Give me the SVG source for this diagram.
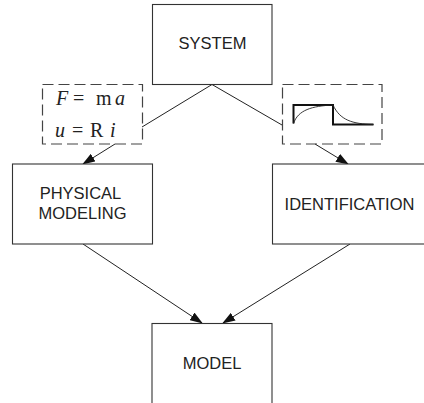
<svg xmlns="http://www.w3.org/2000/svg" width="424" height="403" viewBox="0 0 424 403">
<style>
.box{fill:#fff;stroke:#333;stroke-width:1.1}
.dash{fill:none;stroke:#444;stroke-width:1.2;stroke-dasharray:11 5}
.lbl{font-family:"Liberation Sans",Arial,sans-serif;font-size:16.5px;fill:#222;text-anchor:middle}
.eq{font-family:"Liberation Serif","Times New Roman",serif;font-size:20px;fill:#222}
.conn{fill:none;stroke:#222;stroke-width:1}
</style>
<defs>
<marker id="arr" markerWidth="13" markerHeight="9" refX="12" refY="4.5" orient="auto" markerUnits="userSpaceOnUse">
<path d="M0,0 L13,4.5 L0,9 Z" fill="#111"/>
</marker>
</defs>
<rect width="424" height="403" fill="#fff"/>
<g id="connectors">
<line class="conn" x1="212" y1="84.5" x2="142" y2="127"/>
<line class="conn" x1="212" y1="84.5" x2="282" y2="125"/>
<line class="conn" x1="115" y1="144" x2="83" y2="164" marker-end="url(#arr)"/>
<line class="conn" x1="315" y1="144" x2="348" y2="164" marker-end="url(#arr)"/>
<line class="conn" x1="83" y1="244" x2="202" y2="323" marker-end="url(#arr)"/>
<line class="conn" x1="350" y1="244" x2="223" y2="323" marker-end="url(#arr)"/>
</g>
<g id="system">
<rect class="box" x="152.5" y="4.5" width="119.5" height="80"/>
<text class="lbl" x="212.5" y="49">SYSTEM</text>
</g>
<g id="equations">
<rect class="dash" x="42.5" y="84.5" width="100" height="59.5"/>
<text class="eq" y="105"><tspan x="56" font-style="italic">F</tspan><tspan x="73">=</tspan><tspan x="96">m</tspan><tspan x="115" font-style="italic">a</tspan></text>
<text class="eq" y="137"><tspan x="55" font-style="italic">u</tspan><tspan x="72">=</tspan><tspan x="90">R</tspan><tspan x="110" font-style="italic">i</tspan></text>
</g>
<g id="response">
<rect class="dash" x="282.5" y="84.5" width="99.5" height="59.5"/>
<path d="M293.5,123.5 V105 H333 V124.5 H373.5" fill="none" stroke="#111" stroke-width="2"/>
<path d="M293.5,123.5 C298,110 312,106 333,105" fill="none" stroke="#222" stroke-width="0.9"/>
<path d="M333,105 C340,120 352,124 373.5,124.5" fill="none" stroke="#222" stroke-width="0.9"/>
</g>
<g id="physical">
<rect class="box" x="12.5" y="164" width="140" height="80"/>
<text class="lbl" x="80.5" y="198.5">PHYSICAL</text>
<text class="lbl" x="82.5" y="218.5">MODELING</text>
</g>
<g id="identification">
<rect class="box" x="272.5" y="164" width="160" height="80"/>
<text class="lbl" x="349.5" y="210">IDENTIFICATION</text>
</g>
<g id="model">
<rect class="box" x="152" y="323.5" width="120" height="90"/>
<text class="lbl" x="212" y="369">MODEL</text>
</g>
</svg>
